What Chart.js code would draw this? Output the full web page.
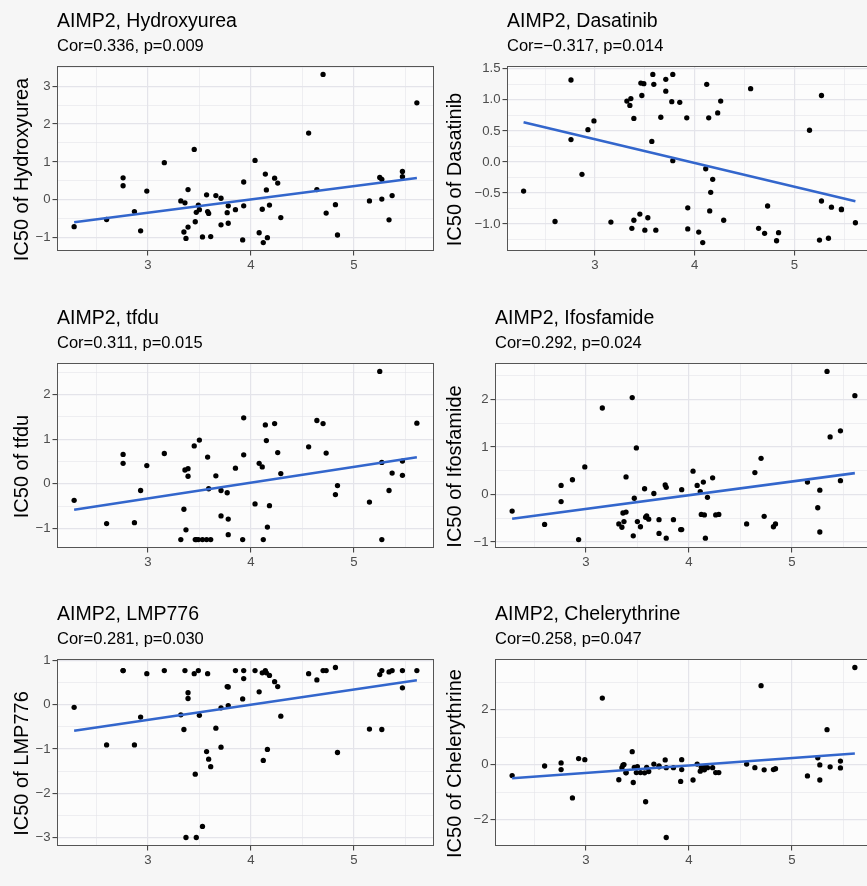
<!DOCTYPE html>
<html>
<head>
<meta charset="utf-8">
<script src="https://cdn.jsdelivr.net/npm/chart.js@4.4.1/dist/chart.umd.min.js"></script>
<style>
  html, body { margin: 0; padding: 0; }
  body {
    width: 867px; height: 886px; overflow: hidden; position: relative;
    background: #f6f6f6;
    font-family: 'Liberation Sans', Arial, sans-serif;
  }
  canvas { position: absolute; }
</style>
</head>
<body>
<script>
// AIMP2 expression of each cell line (shared x values for all six drugs)
const aimp2 = [
  2.285, 2.60, 2.76, 2.76, 2.87, 2.93, 2.99, 3.16,
  3.32, 3.35, 3.36, 3.37, 3.39, 3.39,
  3.45, 3.46, 3.47, 3.49, 3.50, 3.53, 3.57, 3.58, 3.59, 3.61,
  3.66, 3.71, 3.71, 3.77, 3.78, 3.78, 3.85, 3.92, 3.93, 3.93,
  4.04, 4.08, 4.11, 4.12, 4.14, 4.15, 4.16, 4.18, 4.23, 4.26, 4.29,
  4.56, 4.64, 4.70, 4.73, 4.82, 4.84,
  5.15, 5.25, 5.27, 5.27, 5.34, 5.37, 5.47, 5.47, 5.61
];

// IC50 values per drug, same cell-line order as aimp2
const hydroxyurea = [
  -0.71, -0.52, 0.58, 0.37, -0.31, -0.82, 0.23, 0.98,
  -0.03, -0.85, -0.08, -1.02, 0.27, -0.72,
  1.33, -0.58, -0.33, -0.14, -0.26, -0.98, 0.13, -0.31, -0.36, -0.97,
  0.11, -0.66, 0.04, -0.34, -0.16, -0.62, -0.26, -1.06, -0.16, 0.47,
  1.04, -0.87, -0.25, -1.13, 0.68, 0.26, -1.00, -0.14, 0.57, 0.44, -0.47,
  1.76, 0.27, 3.31, -0.35, -0.13, -0.93,
  -0.03, 0.59, 0.54, 0.02, -0.53, 0.11, 0.75, 0.61, 2.56
];
const dasatinib = [
  -0.47, -0.96, 1.32, 0.36, -0.20, 0.52, 0.66, -0.97,
  0.98, 0.91, 1.02, -1.07, 0.70, -0.94,
  -0.84, 1.27, 1.07, 1.26, -1.10, -0.90, 0.33, 1.41, 1.25, -1.10,
  0.72, 1.33, 1.14, 0.97, 1.41, 0.02, 0.96, 0.71, -0.74, -1.08,
  -1.13, -1.30, -0.11, 1.25, 0.71, -0.79, -0.49, -0.28, 0.79, 0.98, -0.94,
  1.18, -1.07, -1.15, -0.71, -1.27, -1.14,
  0.51, -1.26, 1.07, -0.63, -1.23, -0.73, -0.77, -0.76, -0.98
];
const tfdu = [
  -0.37, -0.89, 0.66, 0.46, -0.87, -0.15, 0.41, 0.68,
  -1.25, -0.57, 0.31, -1.03, 0.34, 0.17,
  0.85, -1.25, -1.25, -1.25, 0.98, -1.25, -1.25, 0.60, -0.11, -1.25,
  0.18, -0.15, -0.72, -0.20, -0.79, -1.14, 0.35, -1.25, 1.48, 0.65,
  -0.45, 0.46, 0.38, -1.25, 1.32, 0.97, -0.97, -0.49, 1.35, 0.70, 0.23,
  0.83, 1.42, 1.35, 0.69, -0.24, -0.04,
  -0.41, 2.52, 0.48, -1.25, -0.15, 0.24, 0.51, 0.19, 1.36
];
const ifosfamide = [
  -0.35, -0.63, 0.19, -0.15, 0.31, -0.95, 0.58, 1.82,
  -0.62, -0.69, -0.39, -0.57, 0.37, -0.37,
  2.04, -0.87, -0.08, 0.98, -0.57, -0.68, 0.12, -0.48, -0.45, -0.52,
  0.02, -0.53, -0.82, 0.20, 0.15, -0.92, -0.53, -0.74, 0.10, -0.74,
  0.49, 0.19, 0.06, -0.42, 0.26, -0.43, -0.92, -0.06, 0.35, -0.43, -0.42,
  -0.62, 0.46, 0.76, -0.46, -0.68, -0.62,
  0.26, -0.28, 0.09, -0.79, 2.59, 1.21, 1.34, 0.29, 2.08
];
const lmp776 = [
  -0.06, -0.91, 0.77, 0.77, -0.91, -0.28, 0.70, 0.77,
  -0.23, -0.56, 0.77, -3.00, 0.14, 0.27,
  0.70, -1.57, -3.00, 0.77, -0.24, -2.75, -1.06, 0.70, -1.23, -1.40,
  -0.53, -0.07, -0.96, 0.41, -0.02, 0.40, 0.77, 0.13, 0.77, 0.59,
  0.77, 0.29, 0.72, -1.26, 0.77, 0.72, -1.01, 0.66, 0.52, 0.41, -0.26,
  0.70, 0.56, 0.77, 0.77, 0.84, -1.08,
  -0.55, 0.68, 0.77, -0.56, 0.74, 0.77, 0.77, 0.38, 0.77
];
const chelerythrine = [
  -0.40, -0.05, 0.06, -0.18, -1.21, 0.22, 0.18, 2.42,
  -0.55, -0.11, -0.02, 0.00, -0.30, -0.29,
  0.47, -0.65, -0.10, -0.29, -0.07, -0.29, -0.30, -1.35, -0.10, -0.25,
  0.02, -0.05, -0.08, 0.17, -0.11, -2.65, -0.11, -0.61, 0.18, -0.18,
  -0.56, 0.02, -0.24, -0.10, -0.15, -0.19, -0.07, -0.11, -0.11, -0.29, -0.29,
  0.02, -0.11, 2.87, -0.19, -0.18, -0.15,
  -0.41, 0.25, -0.01, -0.56, 1.27, -0.08, 0.13, -0.12, 3.53
];

// Panel titles and statistics
const drugNames = ['Hydroxyurea', 'Dasatinib', 'tfdu', 'Ifosfamide', 'LMP776', 'Chelerythrine'];
const corValues = ['0.336', '\u22120.317', '0.311', '0.292', '0.281', '0.258'];
const pValues = ['0.009', '0.014', '0.015', '0.024', '0.030', '0.047'];

// Axis breaks
const xTicks = [3, 4, 5];
const hydroxyureaTicks = [-1, 0, 1, 2, 3];
const dasatinibTicks = [-1.0, -0.5, 0.0, 0.5, 1.0, 1.5];
const tfduTicks = [-1, 0, 1, 2];
const ifosfamideTicks = [-1, 0, 1, 2];
const lmp776Ticks = [-3, -2, -1, 0, 1];
const chelerythrineTicks = [-2, 0, 2];
const yTickDecimals = [0, 1, 0, 0, 0, 0];

const ySeries = [hydroxyurea, dasatinib, tfdu, ifosfamide, lmp776, chelerythrine];
const yTickSets = [hydroxyureaTicks, dasatinibTicks, tfduTicks, ifosfamideTicks, lmp776Ticks, chelerythrineTicks];

// ---- layout of the 2 x 3 grid ----
const FONT = "'Liberation Sans', Arial, sans-serif";
const HEADER_H = 66;   // title + subtitle block above each panel
const XAXIS_H = 24;    // tick marks + tick labels below each panel
const Y_TITLE_X = 22.4;      // centre of the rotated y-axis title, from the canvas left
const Y_TITLE_DROP = 11;     // y-axis title sits slightly below the panel centre
const cells = [
  { left: 0,   top: 0,   width: 440, axisW: 57, plotH: 185, padR: 6 },
  { left: 433, top: 0,   width: 445, axisW: 74, plotH: 185, padR: 6 },
  { left: 0,   top: 297, width: 440, axisW: 57, plotH: 185, padR: 6 },
  { left: 433, top: 297, width: 445, axisW: 62, plotH: 185, padR: 6 },
  { left: 0,   top: 593, width: 440, axisW: 57, plotH: 187, padR: 6 },
  { left: 433, top: 593, width: 445, axisW: 62, plotH: 187, padR: 6 }
];

const GRID_COLOR = '#e4e4ea';
const TICK_COLOR = '#4d4d4d';
const FIT_COLOR = '#3366cc';

function fmtTick(v, dec) {
  const s = Math.abs(v).toFixed(dec);
  return (v < 0 && Math.abs(v) > 1e-9 ? '\u2212' : '') + s;
}

// Least-squares straight line through the points
function linearFit(xs, ys) {
  const n = xs.length;
  let mx = 0, my = 0;
  for (let i = 0; i < n; i++) { mx += xs[i]; my += ys[i]; }
  mx /= n; my /= n;
  let sxy = 0, sxx = 0;
  for (let i = 0; i < n; i++) {
    sxy += (xs[i] - mx) * (ys[i] - my);
    sxx += (xs[i] - mx) * (xs[i] - mx);
  }
  const b = sxy / sxx;
  return { a: my - b * mx, b };
}

// Data range padded by 5% on each side
function expandedRange(vals) {
  const lo = Math.min(...vals), hi = Math.max(...vals);
  const pad = (hi - lo) * 0.05;
  return [lo - pad, hi + pad];
}

// Major breaks plus minor breaks halfway between them
function buildBreaks(majors, lo, hi) {
  const step = majors[1] - majors[0];
  const ext = [majors[0] - step, ...majors, majors[majors.length - 1] + step];
  const out = [];
  for (let i = 0; i < ext.length; i++) {
    const v = ext[i];
    if (i > 0 && i < ext.length - 1 && v >= lo && v <= hi) out.push({ value: v, minor: false });
    if (i < ext.length - 1) {
      const m = (v + ext[i + 1]) / 2;
      if (m >= lo && m <= hi) out.push({ value: m, minor: true });
    }
  }
  return out;
}

// Panel background and surrounding frame
const panelFrame = {
  id: 'panelFrame',
  beforeDraw(chart) {
    const { ctx, chartArea: a } = chart;
    ctx.save();
    ctx.fillStyle = '#fcfcfc';
    ctx.fillRect(a.left, a.top, a.right - a.left, a.bottom - a.top);
    ctx.restore();
  },
  afterDraw(chart) {
    const { ctx, chartArea: a } = chart;
    ctx.save();
    ctx.strokeStyle = '#555555';
    ctx.lineWidth = 1;
    ctx.strokeRect(Math.round(a.left) + 0.5, Math.round(a.top) + 0.5,
                   Math.round(a.right - a.left) - 1, Math.round(a.bottom - a.top) - 1);
    ctx.restore();
  }
};

// Rotated y-axis title, drawn next to the tick labels
const yAxisTitle = {
  id: 'yAxisTitle',
  afterDraw(chart, args, opts) {
    const { ctx, chartArea: a } = chart;
    ctx.save();
    ctx.translate(Y_TITLE_X, (a.top + a.bottom) / 2 + Y_TITLE_DROP);
    ctx.rotate(-Math.PI / 2);
    ctx.fillStyle = '#000000';
    ctx.font = '20px ' + FONT;
    ctx.textAlign = 'center';
    ctx.textBaseline = 'middle';
    ctx.fillText(opts.text, 0, 0);
    ctx.restore();
  }
};

function gridOptions() {
  return {
    drawOnChartArea: true,
    drawTicks: true,
    tickLength: 4.5,
    color: ctx => GRID_COLOR,
    lineWidth: ctx => (ctx.tick && ctx.tick.minor ? 0.6 : 1.2),
    tickColor: ctx => (ctx.tick && ctx.tick.minor ? 'rgba(0,0,0,0)' : '#333333'),
    tickWidth: 1
  };
}

const [xLo, xHi] = expandedRange(aimp2);

cells.forEach((cell, k) => {
  const ys = ySeries[k];
  const fit = linearFit(aimp2, ys);
  const xMin = Math.min(...aimp2), xMax = Math.max(...aimp2);
  const fitLine = [
    { x: xMin, y: fit.a + fit.b * xMin },
    { x: xMax, y: fit.a + fit.b * xMax }
  ];
  const [yLo, yHi] = expandedRange(ys.concat(fitLine.map(p => p.y)));
  const points = aimp2.map((x, i) => ({ x, y: ys[i] }));
  const dec = yTickDecimals[k];

  const canvas = document.createElement('canvas');
  canvas.width = cell.width;
  canvas.height = HEADER_H + cell.plotH + XAXIS_H;
  canvas.style.left = cell.left + 'px';
  canvas.style.top = cell.top + 'px';
  canvas.style.width = cell.width + 'px';
  canvas.style.height = canvas.height + 'px';
  document.body.appendChild(canvas);

  new Chart(canvas, {
    type: 'scatter',
    data: {
      datasets: [
        {
          type: 'line',
          data: fitLine,
          borderColor: FIT_COLOR,
          borderWidth: 2.6,
          pointRadius: 0,
          fill: false,
          order: 0
        },
        {
          data: points,
          backgroundColor: '#000000',
          borderWidth: 0,
          pointRadius: 2.65,
          order: 1
        }
      ]
    },
    options: {
      responsive: false,
      animation: false,
      devicePixelRatio: 1,
      events: [],
      layout: { padding: { left: 0, right: cell.padR, top: 0, bottom: 0 } },
      plugins: {
        legend: { display: false },
        tooltip: { enabled: false },
        yAxisTitle: { text: 'IC50 of ' + drugNames[k] },
        title: {
          display: true,
          text: 'AIMP2, ' + drugNames[k],
          align: 'start',
          fullSize: false,
          color: '#000000',
          font: { family: FONT, size: 19.5, weight: 'normal', lineHeight: 1.2 },
          padding: { top: 10.2, bottom: 0 }
        },
        subtitle: {
          display: true,
          text: 'Cor=' + corValues[k] + ', p=' + pValues[k],
          align: 'start',
          fullSize: false,
          color: '#000000',
          font: { family: FONT, size: 16.5, weight: 'normal', lineHeight: 1.2 },
          padding: { top: 2.5, bottom: 10.1 }
        }
      },
      scales: {
        x: {
          type: 'linear',
          position: 'bottom',
          min: xLo,
          max: xHi,
          bounds: 'data',
          afterBuildTicks: s => { s.ticks = buildBreaks(xTicks, xLo, xHi); },
          afterFit: s => { s.height = XAXIS_H; },
          border: { display: false },
          grid: gridOptions(),
          ticks: {
            autoSkip: false,
            maxRotation: 0,
            padding: 2,
            color: TICK_COLOR,
            font: { family: FONT, size: 13.2 },
            callback: (v, i, t) => (t[i].minor ? '' : fmtTick(v, 0))
          }
        },
        y: {
          type: 'linear',
          position: 'left',
          min: yLo,
          max: yHi,
          bounds: 'data',
          afterBuildTicks: s => { s.ticks = buildBreaks(yTickSets[k], yLo, yHi); },
          afterFit: s => { s.width = cell.axisW; },
          border: { display: false },
          grid: gridOptions(),
          title: { display: false },
          ticks: {
            autoSkip: false,
            padding: 2,
            color: TICK_COLOR,
            font: { family: FONT, size: 13.2 },
            callback: (v, i, t) => (t[i].minor ? '' : fmtTick(v, dec))
          }
        }
      }
    },
    plugins: [panelFrame, yAxisTitle]
  });
});
</script>
</body>
</html>
